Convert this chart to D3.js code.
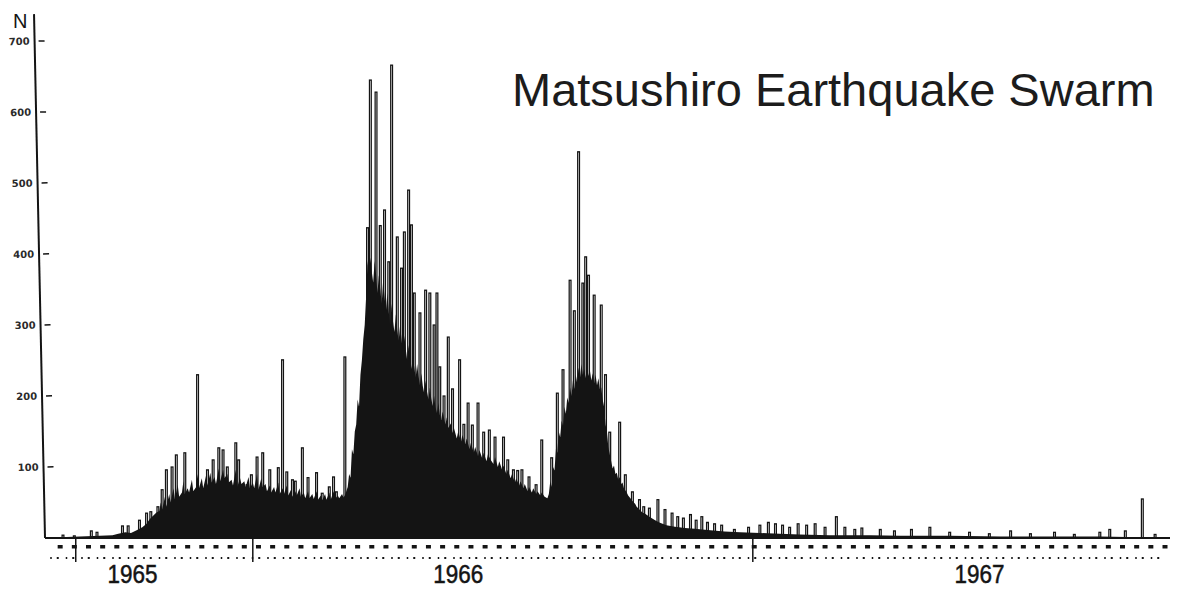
<!DOCTYPE html>
<html>
<head>
<meta charset="utf-8">
<script src="https://cdn.jsdelivr.net/npm/d3@7"></script>
<style>
  html, body { margin: 0; background: #fff; }
  svg { display: block; }
</style>
</head>
<body>
<svg id="chart" width="1187" height="592"></svg>
<script>
// Daily number of felt earthquakes; day 0 is the first day of the record.

// Quiet start and first active period: [day, count]
const massEarly = [
  [0,0],[10,1],[24,2],[38,3],[47,4],[51,6],[56,8],[60,7],[64,11],[68,15],[71,20],[73,26],
  [76,32],[78,36],[80,38],[81,50],[82,40],[84,58],[85,44],[87,62],[88,50],[90,70],[91,55],
  [93,75],[94,58],[96,64],[97,80],[98,62],[100,70],[101,64],[103,82],[104,66],[106,72],
  [107,90],[108,70],[110,84],[111,70],[113,88],[114,74],[116,92],[117,78],[119,86],[120,76],
  [122,98],[123,80],[125,96],[126,84],[128,90],[129,78],[131,82],[132,74],[134,96],[135,72],
  [137,84],[138,76],[140,80],[141,72],[143,86],[144,70],[146,78],[147,70],[149,90],[150,68],
  [152,84],[153,72],[155,76],[156,66],[158,74],[159,64],[161,72],[162,64],[164,78],[165,62],
  [167,70],[168,62],[170,74],[171,60],[173,68],[174,58],[176,66],[177,60],[179,70],[180,58],
  [182,64],[183,56],[185,66],[186,56],[188,62],[189,55],[191,66],[192,54],[194,60],[195,53],
  [197,62],[198,54],[200,64],[201,54],[203,66],[204,55],[206,60],[207,56],[209,62],[210,57],
  [211,60]
];

// Main active period: [day, count]
const massMain = [
  [213,72],[214,90],[215,85],[216,125],[217,118],[218,150],[219,160],[220,195],[221,185],
  [222,230],[223,250],[224,280],[225,300],[226,340],[227,390],[228,370],[229,395],[230,375],
  [231,360],[232,390],[233,372],[234,345],[235,370],[236,350],[237,330],[238,362],[239,340],
  [240,320],[241,345],[242,318],[243,300],[244,330],[245,305],[246,290],[247,315],[248,292],
  [249,278],[250,300],[251,280],[252,262],[253,285],[254,266],[255,250],[256,272],[257,252],
  [258,238],[259,256],[260,240],[261,226],[262,245],[263,228],[264,215],[265,232],[266,214],
  [267,204],[268,222],[269,206],[270,195],[271,212],[272,196],[273,186],[274,200],[275,184],
  [276,176],[277,190],[278,174],[279,166],[280,178],[282,160],[283,170],[284,155],[286,162],
  [287,148],[288,155],[290,140],[291,150],[293,136],[294,145],[296,132],[297,140],[299,125],
  [300,134],[302,120],[303,128],[305,115],[306,124],[308,112],[309,120],[311,108],[312,118],
  [314,110],[316,104],[317,114],[319,100],[320,108],[322,96],[323,102],[325,90],[326,96],
  [328,84],[329,90],[331,78],[332,84],[334,74],[335,80],[337,70],[338,76],[340,66],[341,72],
  [343,64],[344,70],[346,62],[347,66],[349,60],[350,64],[352,58],[354,56]
];

// Late active period and decay: [day, count]
const massLate = [
  [355,62],[356,80],[357,72],[358,100],[359,95],[360,125],[361,120],[362,150],[363,142],
  [364,165],[365,158],[366,185],[367,175],[368,198],[369,190],[370,212],[371,200],[372,222],
  [373,210],[374,230],[375,218],[376,240],[377,226],[378,245],[379,230],[380,238],[381,225],
  [382,242],[383,228],[384,236],[385,222],[386,232],[387,218],[388,230],[389,215],[390,225],
  [391,210],[392,212],[393,195],[394,185],[395,160],[396,150],[397,128],[398,118],[399,108],
  [400,98],[401,102],[402,90],[403,92],[404,82],[405,86],[406,76],[407,78],[408,70],[410,64],
  [411,60],[413,55],[414,52],[416,48],[417,44],[419,40],[421,36],[423,34],[426,30],[430,25],
  [433,22],[438,18],[444,16],[451,14],[458,13],[469,11],[479,9],[490,8],[504,7],[518,6],
  [532,5],[553,4],[582,4],[603,3],[638,3],[674,2],[709,2],[744,2],[772,1],[790,1]
];

// Days that stand out above the general level: [day, count]
const spikes = [
  [12,4],[20,3],[32,10],[36,8],[54,17],[58,17],[66,25],[71,35],[74,37],[79,44],[82,68],
  [85,96],[89,100],[92,117],[98,120],[107,230],[114,96],[118,110],[122,127],[125,124],
  [128,100],[134,134],[136,110],[142,75],[145,89],[149,114],[153,120],[158,96],[164,99],
  [167,251],[170,93],[174,82],[176,80],[181,127],[185,85],[191,92],[195,63],[200,72],
  [203,86],[205,65],[211,255],
  [222,185],[225,265],[227,437],[229,645],[233,628],[236,440],[239,462],[242,389],[244,666],
  [248,424],[251,380],[253,431],[256,490],[258,441],[260,345],[264,317],[268,349],[271,345],
  [274,300],[276,345],[278,241],[281,200],[284,283],[287,210],[292,251],[295,160],[298,190],
  [301,159],[305,190],[309,149],[313,152],[317,142],[323,142],[326,110],[330,96],[333,95],
  [336,96],[341,86],[346,75],[350,138],[357,113],[361,204],[365,237],[370,363],[373,320],
  [376,544],[379,359],[381,396],[383,370],[387,342],[392,328],[395,230],[398,149],[405,163],
  [409,89],[414,65],[419,54],[422,44],[426,42],[432,54],
  [437,40],[442,35],[446,30],[450,28],[455,33],[459,25],[463,30],[467,22],[472,20],[477,18],
  [486,12],[496,15],[504,18],[510,22],[515,20],[520,18],[525,15],[531,20],[537,18],[543,20],
  [550,15],[558,30],[564,15],[571,12],[576,14],[589,12],[599,10],[611,12],[624,15],[638,8],
  [652,8],[666,6],[681,10],[695,6],[712,8],[726,5],[744,8],[751,12],[762,10],[774,55],[783,5]
];

const yTicks = [100, 200, 300, 400, 500, 600, 700];
const yAxisTop = 738;
const yearLabels = [["1965", 61], ["1966", 291], ["1967", 659]];
const tenDayMarks = d3.range(10, 791, 10);
const periodMarks = [21, 146, 499];
const titleText = "Matsushiro Earthquake Swarm";

const ink = "#141414";
const x = d3.scaleLinear().domain([0, 790]).range([46, 1165]);
const y = d3.scaleLinear().domain([0, 700]).range([538, 41]);
const svg = d3.select("#chart");

// Standout days: narrow outlined bars
const barW = 1.8;
svg.append("g")
  .selectAll("rect")
  .data(spikes)
  .join("rect")
  .attr("x", d => x(d[0]) - barW / 2)
  .attr("y", d => y(d[1]))
  .attr("width", barW)
  .attr("height", d => y(0) - y(d[1]))
  .attr("fill", "#fff")
  .attr("stroke", ink)
  .attr("stroke-width", 1.25);

// General activity level as a solid mass
const area = d3.area()
  .x(d => x(d[0]))
  .y0(y(0))
  .y1(d => y(d[1]));
svg.append("path")
  .datum(massEarly.concat(massMain, massLate))
  .attr("d", area)
  .attr("fill", ink);

// Time base line
svg.append("line")
  .attr("x1", x(0) - 1).attr("x2", x(790) + 5)
  .attr("y1", y(0)).attr("y2", y(0))
  .attr("stroke", ink).attr("stroke-width", 2);

// Calendar strip under the base line
const strip = svg.append("g");
strip.selectAll("rect.ten")
  .data(tenDayMarks)
  .join("rect")
  .attr("class", "ten")
  .attr("x", d => x(d) - 2.5)
  .attr("y", y(0) + 7)
  .attr("width", 5)
  .attr("height", 3.5)
  .attr("fill", ink);
strip.append("line")
  .attr("x1", x(3)).attr("x2", x(790))
  .attr("y1", y(0) + 20).attr("y2", y(0) + 20)
  .attr("stroke", ink).attr("stroke-width", 2)
  .attr("stroke-dasharray", "1.5 5 2 7");
strip.selectAll("line.period")
  .data(periodMarks)
  .join("line")
  .attr("class", "period")
  .attr("x1", d => x(d)).attr("x2", d => x(d))
  .attr("y1", y(0)).attr("y2", y(0) + 24)
  .attr("stroke", ink).attr("stroke-width", 1.5);

// Year labels
svg.append("g")
  .selectAll("text")
  .data(yearLabels)
  .join("text")
  .attr("x", d => x(d[1]))
  .attr("y", 583)
  .attr("text-anchor", "middle")
  .attr("font-family", "Liberation Sans, Arial, sans-serif")
  .attr("font-size", 25)
  .attr("textLength", 50)
  .attr("lengthAdjust", "spacingAndGlyphs")
  .attr("fill", ink)
  .attr("stroke", ink)
  .attr("stroke-width", 0.5)
  .text(d => d[0]);

// Vertical count axis (hand-drawn, leaning slightly)
const yAxis = svg.append("g")
  .attr("transform", `rotate(-1.2, ${x(0) - 1}, ${y(0)}) translate(${x(0) - 1},0)`);
yAxis.append("line")
  .attr("x1", 0).attr("x2", 0)
  .attr("y1", y(0)).attr("y2", y(yAxisTop))
  .attr("stroke", ink).attr("stroke-width", 2);
yAxis.selectAll("line.tick")
  .data(yTicks)
  .join("line")
  .attr("class", "tick")
  .attr("x1", 4).attr("x2", 10)
  .attr("y1", d => y(d)).attr("y2", d => y(d))
  .attr("stroke", ink).attr("stroke-width", 1.5);
yAxis.selectAll("text.tick")
  .data(yTicks)
  .join("text")
  .attr("class", "tick")
  .attr("x", -5)
  .attr("y", d => y(d) + 3.5)
  .attr("text-anchor", "end")
  .attr("font-family", "DejaVu Sans, sans-serif")
  .attr("font-weight", "bold")
  .attr("font-size", 10)
  .attr("fill", "#2a2a2a")
  .text(d => d);

// Axis name
svg.append("text")
  .attr("x", 13)
  .attr("y", 28)
  .attr("font-family", "Liberation Sans, Arial, sans-serif")
  .attr("font-size", 20)
  .attr("fill", ink)
  .text("N");

// Title
svg.append("text")
  .attr("x", 512)
  .attr("y", 106)
  .attr("font-family", "Liberation Sans, Arial, Helvetica, sans-serif")
  .attr("font-size", 47)
  .attr("fill", "#1c1c1c")
  .text(titleText);
</script>
</body>
</html>
